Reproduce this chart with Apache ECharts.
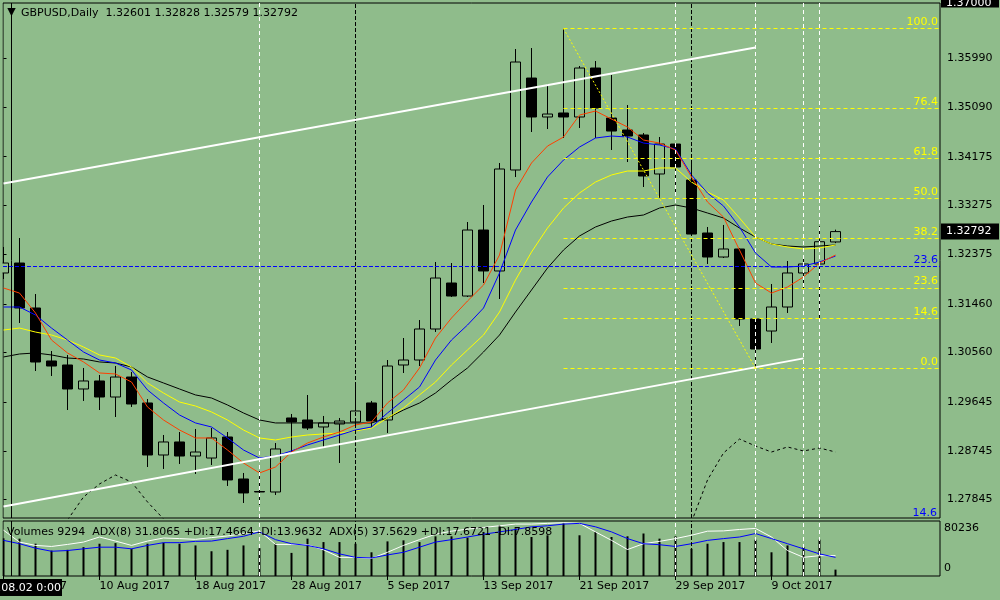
<!DOCTYPE html>
<html>
<head>
<meta charset="utf-8">
<script src="https://cdn.jsdelivr.net/npm/echarts@6/dist/echarts.min.js"></script>
<style>
html, body { margin: 0; padding: 0; background: #8fbc8b; }
#chart { width: 1000px; height: 600px; }
</style>
</head>
<body>
<div id="chart"></div>
<script>
// GBPUSD daily bars, 2 Aug - 13 Oct 2017
var dates = ['2017.08.02','2017.08.03','2017.08.04','2017.08.07','2017.08.08','2017.08.09','2017.08.10','2017.08.11',
  '2017.08.14','2017.08.15','2017.08.16','2017.08.17','2017.08.18','2017.08.21','2017.08.22','2017.08.23','2017.08.24',
  '2017.08.25','2017.08.28','2017.08.29','2017.08.30','2017.08.31','2017.09.01','2017.09.04','2017.09.05','2017.09.06',
  '2017.09.07','2017.09.08','2017.09.11','2017.09.12','2017.09.13','2017.09.14','2017.09.15','2017.09.18','2017.09.19',
  '2017.09.20','2017.09.21','2017.09.22','2017.09.25','2017.09.26','2017.09.27','2017.09.28','2017.09.29','2017.10.02',
  '2017.10.03','2017.10.04','2017.10.05','2017.10.06','2017.10.09','2017.10.10','2017.10.11','2017.10.12','2017.10.13'];

var opens = [1.32028,1.32212,1.31382,1.30404,1.30330,1.29887,1.30035,1.29739,1.30108,1.29629,
  1.28669,1.28909,1.28650,1.28613,1.29001,1.28226,1.27995,1.27986,1.29352,1.29315,
  1.29186,1.29241,1.29278,1.29629,1.29315,1.30330,1.30422,1.30994,1.31843,1.31603,
  1.32821,1.32065,1.33929,1.35626,1.34907,1.34981,1.34907,1.35811,1.34888,1.34667,
  1.34575,1.33855,1.34408,1.33744,1.32766,1.32323,1.32471,1.31179,1.30957,1.31400,
  1.32028,1.32194,1.32601];
var highs = [1.32508,1.32674,1.31640,1.30588,1.30514,1.30275,1.30145,1.30311,1.30201,1.29702,
  1.29038,1.29093,1.29149,1.29167,1.29093,1.28337,1.28374,1.28890,1.29426,1.29776,
  1.29389,1.29352,1.29961,1.29666,1.30422,1.30828,1.31160,1.32231,1.32212,1.32969,
  1.33283,1.34058,1.36162,1.36180,1.35516,1.36540,1.35848,1.35940,1.35682,1.35128,
  1.34611,1.34538,1.34427,1.34039,1.32877,1.32914,1.32489,1.31190,1.31825,1.32249,
  1.32342,1.32895,1.32828];
var lows = [1.31917,1.31105,1.30219,1.30127,1.29499,1.29666,1.29499,1.29370,1.29555,1.28447,
  1.28411,1.28503,1.28318,1.28484,1.28097,1.27783,1.27746,1.27931,1.28724,1.29130,
  1.28817,1.28521,1.29186,1.29186,1.29075,1.30182,1.30311,1.30939,1.31585,1.31585,
  1.31843,1.31548,1.33799,1.34630,1.34685,1.34519,1.34704,1.34519,1.34298,1.34076,
  1.33615,1.33412,1.33467,1.32729,1.32194,1.32305,1.31050,1.30270,1.30736,1.31290,
  1.31751,1.31197,1.32579];
var closes = [1.32212,1.31382,1.30385,1.30311,1.29887,1.30035,1.29739,1.30108,1.29610,1.28669,
  1.28909,1.28650,1.28724,1.28983,1.28208,1.27968,1.27986,1.28780,1.29278,1.29167,
  1.29260,1.29296,1.29481,1.29296,1.30311,1.30422,1.30994,1.31935,1.31603,1.32821,
  1.32065,1.33947,1.35922,1.34907,1.34962,1.34907,1.35811,1.35073,1.34648,1.34556,
  1.33818,1.34408,1.33984,1.32747,1.32323,1.32471,1.31179,1.30625,1.31400,1.32028,
  1.32194,1.32605,1.32792];

// moving averages as drawn on the chart
var maRed = [1.31751,1.31658,1.31289,1.30791,1.30552,1.30386,1.30183,1.30164,1.30016,1.29555,
  1.29315,1.29130,1.28983,1.28983,1.28761,1.28521,1.28337,1.28447,1.28724,1.28890,
  1.29001,1.29093,1.29223,1.29278,1.29629,1.29869,1.30275,1.30828,1.31197,1.31511,
  1.31806,1.32360,1.33560,1.34058,1.34371,1.34537,1.34943,1.35017,1.34869,1.34722,
  1.34482,1.34426,1.34298,1.33800,1.33338,1.33061,1.32452,1.31843,1.31658,1.31769,
  1.31954,1.32212,1.32360];
var maBlue = [1.31400,1.31400,1.31252,1.31012,1.30791,1.30570,1.30422,1.30367,1.30238,1.29869,
  1.29629,1.29407,1.29260,1.29186,1.28983,1.28761,1.28613,1.28650,1.28743,1.28854,
  1.28946,1.29038,1.29130,1.29186,1.29444,1.29684,1.29924,1.30422,1.30791,1.31068,
  1.31381,1.32028,1.32821,1.33338,1.33800,1.34113,1.34353,1.34519,1.34556,1.34537,
  1.34426,1.34390,1.34316,1.33837,1.33504,1.33264,1.32877,1.32397,1.32138,1.32138,
  1.32157,1.32231,1.32341];
var maYellow = [1.30975,1.31012,1.30938,1.30883,1.30791,1.30662,1.30515,1.30459,1.30293,1.29998,
  1.29813,1.29647,1.29573,1.29463,1.29315,1.29130,1.28983,1.28946,1.29001,1.29038,
  1.29057,1.29075,1.29112,1.29167,1.29352,1.29536,1.29777,1.30016,1.30330,1.30607,
  1.30883,1.31308,1.31898,1.32415,1.32858,1.33227,1.33504,1.33707,1.33837,1.33910,
  1.33910,1.33966,1.33966,1.33707,1.33523,1.33375,1.33043,1.32692,1.32563,1.32508,
  1.32471,1.32489,1.32545];
var maBlack = [1.30478,1.30533,1.30552,1.30515,1.30459,1.30441,1.30386,1.30367,1.30293,1.30109,
  1.29998,1.29887,1.29777,1.29721,1.29592,1.29444,1.29315,1.29260,1.29260,1.29260,
  1.29260,1.29260,1.29260,1.29260,1.29352,1.29499,1.29629,1.29813,1.30053,1.30275,
  1.30570,1.30883,1.31308,1.31714,1.32120,1.32452,1.32711,1.32877,1.32987,1.33061,
  1.33098,1.33227,1.33283,1.33227,1.33135,1.33043,1.32858,1.32692,1.32563,1.32526,
  1.32508,1.32526,1.32545];

// dotted indicator in price window (only visible parts)
var dotInd = [null,null,null,null,1.27469,1.27894,1.28134,1.28300,1.28171,1.27802,
  1.27490,null,null,null,null,null,null,null,null,null,
  null,null,null,null,null,null,null,null,null,null,
  null,null,null,null,null,null,null,null,null,null,
  null,null,null,1.27433,1.28208,1.28706,1.28964,1.28835,1.28724,1.28817,
  1.28743,1.28798,1.28724];

var volumes = [55000,54500,47100,37100,38200,42100,47100,48000,39700,47100,
  48600,47100,44600,36100,38200,44600,40600,47100,33700,54500,
  49500,49500,47100,34600,50500,52000,49500,57900,57900,56000,
  64300,74300,69400,56900,59400,76800,59400,64300,56900,57900,
  62000,54500,57900,39700,47100,49500,49500,53000,34600,44600,
  42100,53000,9294];
var volMax = 80236;

// ADX lines, in percent of the sub-window height
var adxWhite = [83.3,61.7,55.6,53.7,57.4,61.7,70.9,63.5,55.6,63.5,
  69.1,68.0,66.7,69.8,72.8,77.2,82.0,57.4,57.4,56.9,
  47.6,33.9,33.9,32.0,43.1,55.6,66.1,75.9,81.5,85.2,
  88.3,91.3,94.4,94.4,95.7,96.9,95.7,80.2,64.8,48.1,
  58.7,63.0,68.0,74.1,81.5,82.0,84.6,86.5,70.9,46.3,
  33.9,37.0,37.0];
var adxBlue = [64.8,58.7,50.6,45.0,46.3,49.4,52.4,52.4,49.4,55.6,
  60.6,60.6,63.0,63.5,68.0,72.2,80.2,66.1,58.7,55.6,
  49.4,40.2,33.9,32.8,38.3,43.1,52.4,61.7,66.1,70.9,
  75.9,80.2,84.6,89.4,91.3,94.4,95.7,89.4,80.2,68.0,
  58.7,56.9,53.7,58.7,64.8,68.0,70.9,77.2,68.0,58.7,
  49.4,40.2,33.9];

// price axis ticks and date ticks
var priceTicks = [1.27845,1.28745,1.29645,1.30560,1.31460,1.32375,1.33275,1.34175,1.35090,1.35990];
var dateTickIdx = [0,6,12,18,24,30,36,42,48];
var monthNames = ['Jan','Feb','Mar','Apr','May','Jun','Jul','Aug','Sep','Oct','Nov','Dec'];

// drawing objects
var fibLabels = ['100.0','76.4','61.8','50.0','38.2','23.6','14.6','0.0'];
var fibPrices = [1.36540,1.35060,1.34145,1.33405,1.32665,1.31750,1.31186,1.30270];
var fibFrom = 35, fibTo = 47;
var blueFibPrice = 1.32144;
var channelUpper = [[0, 1.33678], [47, 1.36188]];
var channelLower = [[0, 1.27719], [50, 1.30452]];
var whiteVLines = [16, 42, 47, 50, 51];
var blackVLines = [22, 43];

var BG = '#8fbc8b';
var FONT = 'DejaVu Sans';
var xMin = -0.03125, xMax = 58.53125;

function fmtDate(s) {
  var p = s.split('.');
  return parseInt(p[2], 10) + ' ' + monthNames[parseInt(p[1], 10) - 1] + ' ' + p[0];
}
function pairs(arr) {
  return arr.map(function (v, i) { return [i, v]; });
}

var candleData = dates.map(function (d, i) {
  return [i, opens[i], closes[i], lows[i], highs[i]];
});

var vLineData = whiteVLines.map(function (k) {
  return { xAxis: k, lineStyle: { color: '#ffffff', type: [4, 3] } };
}).concat(blackVLines.map(function (k) {
  return { xAxis: k, lineStyle: { color: '#000000', type: [4, 2] } };
})).concat([{ xAxis: 0.5, lineStyle: { color: '#000000', type: 'solid' } }]);

var fibLineData = fibPrices.map(function (p, i) {
  return [
    { coord: [fibFrom, p], label: { formatter: fibLabels[i] } },
    { coord: [xMax, p] }
  ];
});
fibLineData.push({
  yAxis: blueFibPrice,
  lineStyle: { color: '#0000ff', type: [4, 2] },
  label: { formatter: '23.6', color: '#0000ff' }
});

function maSeries(name, arr, color) {
  return {
    name: name, type: 'line', xAxisIndex: 0, yAxisIndex: 0,
    data: pairs(arr), showSymbol: false, silent: true, z: 4,
    lineStyle: { color: color, width: 1 }
  };
}

var option = {
  backgroundColor: BG,
  animation: false,
  textStyle: { fontFamily: FONT },
  grid: [
    { left: 3, top: 3, width: 937, height: 515, show: true, borderColor: '#000', borderWidth: 1, backgroundColor: 'transparent' },
    { left: 3, top: 521, width: 937, height: 55, show: true, borderColor: '#000', borderWidth: 1, backgroundColor: 'transparent' }
  ],
  xAxis: [
    { type: 'value', gridIndex: 0, min: xMin, max: xMax, show: false },
    {
      type: 'value', gridIndex: 1, min: xMin, max: xMax,
      axisLine: { show: false },
      splitLine: { show: false },
      axisTick: { show: true, customValues: dateTickIdx, length: 4, lineStyle: { color: '#000' } },
      axisLabel: {
        customValues: dateTickIdx, align: 'left', margin: 5,
        color: '#000', fontSize: 11, fontFamily: FONT,
        formatter: function (v) { return fmtDate(dates[Math.round(v)]); }
      }
    }
  ],
  yAxis: [
    {
      type: 'value', gridIndex: 0, position: 'right', min: 1.27506, max: 1.37011, scale: true,
      axisLine: { show: false },
      splitLine: { show: false },
      axisTick: { show: true, customValues: priceTicks, length: 3, lineStyle: { color: '#000' } },
      axisLabel: {
        customValues: priceTicks, margin: 7, color: '#000', fontSize: 11, fontFamily: FONT,
        formatter: function (v) { return v.toFixed(5); }
      }
    },
    { type: 'value', gridIndex: 1, position: 'right', min: 0, max: volMax, show: false },
    { type: 'value', gridIndex: 1, position: 'right', min: 0, max: 100, show: false }
  ],
  series: [
    {
      name: 'GBPUSD', type: 'candlestick', xAxisIndex: 0, yAxisIndex: 0,
      data: candleData, encode: { x: 0, y: [1, 2, 3, 4] },
      barWidth: 10, clip: true, silent: true, z: 2,
      itemStyle: { color: BG, color0: '#000', borderColor: '#000', borderColor0: '#000', borderWidth: 1 },
      markLine: {
        silent: true, symbol: 'none', precision: 5, label: { show: false },
        lineStyle: { width: 1 }, data: vLineData
      }
    },
    maSeries('MA black', maBlack, '#000000'),
    maSeries('MA yellow', maYellow, '#ffff00'),
    maSeries('MA blue', maBlue, '#0000ff'),
    maSeries('MA red', maRed, '#ff4000'),
    {
      name: 'Channel top', type: 'line', xAxisIndex: 0, yAxisIndex: 0, data: channelUpper,
      showSymbol: false, silent: true, z: 5, lineStyle: { color: '#ffffff', width: 2 }
    },
    {
      name: 'Channel bottom', type: 'line', xAxisIndex: 0, yAxisIndex: 0, data: channelLower,
      showSymbol: false, silent: true, z: 5, lineStyle: { color: '#ffffff', width: 2 }
    },
    {
      name: 'Fibo', type: 'line', xAxisIndex: 0, yAxisIndex: 0,
      data: [[fibFrom, highs[fibFrom]], [fibTo, lows[fibTo]]],
      showSymbol: false, silent: true, z: 5,
      lineStyle: { color: '#ffff00', width: 1, type: [2, 2] },
      markLine: {
        silent: true, symbol: 'none', precision: 5,
        lineStyle: { color: '#ffff00', width: 1, type: [4, 3] },
        label: { show: true, position: 'insideEndTop', distance: [2, 1], color: '#ffff00', fontSize: 11, fontFamily: FONT },
        data: fibLineData
      }
    },
    {
      name: 'Indicator', type: 'line', xAxisIndex: 0, yAxisIndex: 0, data: pairs(dotInd),
      showSymbol: false, silent: true, connectNulls: false, z: 4,
      lineStyle: { color: '#000000', width: 1, type: [3, 3] }
    },
    {
      name: 'Volumes', type: 'bar', xAxisIndex: 1, yAxisIndex: 1, data: pairs(volumes),
      barWidth: 2, silent: true, itemStyle: { color: '#000' }, z: 2,
      markLine: {
        silent: true, symbol: 'none', precision: 5, label: { show: false },
        lineStyle: { width: 1 }, data: vLineData
      }
    },
    {
      name: 'ADX(8)', type: 'line', xAxisIndex: 1, yAxisIndex: 2, data: pairs(adxWhite),
      showSymbol: false, silent: true, z: 4, lineStyle: { color: '#ffffff', width: 1 }
    },
    {
      name: 'ADX(5)', type: 'line', xAxisIndex: 1, yAxisIndex: 2, data: pairs(adxBlue),
      showSymbol: false, silent: true, z: 4, lineStyle: { color: '#0000ff', width: 1 }
    }
  ]
};

var chart = echarts.init(document.getElementById('chart'));
chart.setOption(option);

// boxes and captions placed from the axes
var last = closes.length - 1;
var yLast = chart.convertToPixel({ yAxisIndex: 0 }, closes[last]);
var yTop = chart.convertToPixel({ yAxisIndex: 0 }, 1.37);
var yBottom = chart.convertToPixel({ yAxisIndex: 0 }, 1.27506);
var yVolMax = chart.convertToPixel({ yAxisIndex: 1 }, volMax);
var yVolZero = chart.convertToPixel({ yAxisIndex: 1 }, 0);
var xRight = chart.convertToPixel({ xAxisIndex: 0 }, xMax);
var xCross = chart.convertToPixel({ xAxisIndex: 0 }, 0.5);
var font11 = '11px "' + FONT + '"';

function txt(x, y, s, color, align, valign) {
  return {
    type: 'text', x: x, y: y, z: 100, silent: true,
    style: { text: s, fill: color, font: font11, align: align || 'left', verticalAlign: valign || 'middle' }
  };
}

chart.setOption({
  graphic: [
    txt(xCross, 12, '\u25BC', '#000', 'center'),
    txt(21, 13, 'GBPUSD,Daily  ' + opens[last].toFixed(5) + ' ' + highs[last].toFixed(5) + ' ' +
      lows[last].toFixed(5) + ' ' + closes[last].toFixed(5), '#000'),
    txt(7, 532, 'Volumes ' + volumes[last] + '  ADX(8) 31.8065 +DI:17.4664 -DI:13.9632  ADX(5) 37.5629 +DI:17.6721 -DI:7.8598', '#000'),
    { type: 'rect', z: 90, silent: true, shape: { x: xRight + 1, y: yLast - 8, width: 58, height: 16 }, style: { fill: '#000' } },
    txt(xRight + 6, yLast, closes[last].toFixed(5), '#fff'),
    { type: 'rect', z: 90, silent: true, shape: { x: xRight + 1, y: yTop - 8, width: 58, height: 12 }, style: { fill: '#000' } },
    txt(xRight + 6, yTop, (1.37).toFixed(5), '#fff'),
    txt(xRight - 3, yBottom - 5, '14.6', '#0000ff', 'right'),
    txt(xRight + 4, yVolMax + 2, String(volMax), '#000', 'left', 'top'),
    txt(xRight + 4, yVolZero - 2, '0', '#000', 'left', 'bottom'),
    { type: 'rect', z: 90, silent: true, shape: { x: 0, y: 579, width: 62, height: 17 }, style: { fill: '#000' } },
    txt(61, 588, dates[0] + ' 0:00', '#fff', 'right'),
    { type: 'rect', z: 90, silent: true, shape: { x: 0, y: 0, width: 2.5, height: 576 }, style: { fill: BG } }
  ]
});
</script>
</body>
</html>
